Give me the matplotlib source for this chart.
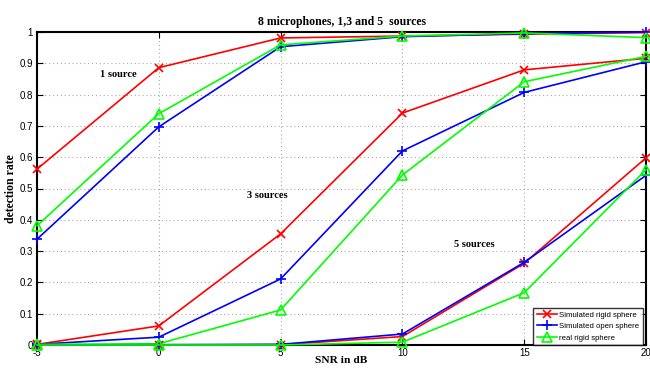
import matplotlib
matplotlib.use("Agg")
import matplotlib.pyplot as plt

snr = [-5, 0, 5, 10, 15, 20]

# 1 source
rigid_1 = [0.562, 0.886, 0.981, 0.987, 0.993, 0.998]
open_1 = [0.338, 0.697, 0.953, 0.985, 0.995, 1.0]
real_1 = [0.381, 0.739, 0.959, 0.987, 0.997, 0.982]

# 3 sources
rigid_3 = [0.002, 0.061, 0.355, 0.741, 0.879, 0.916]
open_3 = [0.002, 0.025, 0.211, 0.62, 0.807, 0.905]
real_3 = [0.002, 0.004, 0.112, 0.543, 0.841, 0.922]

# 5 sources
rigid_5 = [0.0, 0.0, 0.001, 0.027, 0.261, 0.598]
open_5 = [0.0, 0.001, 0.002, 0.035, 0.264, 0.542]
real_5 = [0.0, 0.0, 0.0, 0.009, 0.167, 0.56]

legend_labels = ["Simulated rigid sphere", "Simulated open sphere", "real rigid sphere"]
xticks = [-5, 0, 5, 10, 15, 20]
yticks = [0, 0.1, 0.2, 0.3, 0.4, 0.5, 0.6, 0.7, 0.8, 0.9, 1.0]
ytick_labels = ["0", "0.1", "0.2", "0.3", "0.4", "0.5", "0.6", "0.7", "0.8", "0.9", "1"]

W, H = 650, 368
fig = plt.figure(figsize=(W / 100, H / 100), dpi=100)
ax = fig.add_axes([37 / W, 1 - 345 / H, (646 - 37) / W, (345 - 32) / H])

serif = ["Liberation Serif", "DejaVu Serif"]
sans = ["Liberation Sans", "DejaVu Sans"]

red_kw = dict(color=(1, 0, 0), marker="x", markersize=5.5, linewidth=1.2, markeredgewidth=1.2)
blue_kw = dict(color=(0, 0, 1), marker="+", markersize=7, linewidth=1.2, markeredgewidth=1.2)
green_kw = dict(color=(0, 1, 0), marker="^", markersize=6.5, linewidth=1.2, markeredgewidth=1.2,
                markerfacecolor="none")

for r, b, g in [(rigid_1, open_1, real_1), (rigid_3, open_3, real_3), (rigid_5, open_5, real_5)]:
    lr, = ax.plot(snr, r, **red_kw, clip_on=False, zorder=3)
    lb, = ax.plot(snr, b, **blue_kw, clip_on=False, zorder=3)
    lg, = ax.plot(snr, g, **green_kw, clip_on=False, zorder=3)

handles = [lr, lb, lg]

ax.set_xlim(-5, 20)
ax.set_ylim(0, 1)
ax.set_xticks(xticks)
ax.set_xticklabels([str(t) for t in xticks], fontfamily=sans, fontsize=7)
ax.set_yticks(yticks)
ax.set_yticklabels(ytick_labels, fontfamily=sans, fontsize=7)
ax.tick_params(direction="in", top=True, right=True, length=4, width=0.8)
ax.tick_params(axis="x", pad=2)
ax.tick_params(axis="y", pad=3)
ax.grid(True, linestyle=(0, (1, 2.5)), color="#aaaaaa", linewidth=0.8)
for s in ax.spines.values():
    s.set_linewidth(1.5)

ax.set_title("8 microphones, 1,3 and 5  sources", fontfamily=serif, fontweight="bold",
             fontsize=8.5, pad=5)
ax.set_xlabel("SNR in dB", fontfamily=serif, fontweight="bold", fontsize=8.2, labelpad=-1)
ax.set_ylabel("detection rate", fontfamily=serif, fontweight="bold", fontsize=8.5, labelpad=2)

ax.text(-1.68, 0.863, "1 source", fontfamily=serif, fontweight="bold", fontsize=7.5,
        ha="center", va="center")
ax.text(4.45, 0.479, "3 sources", fontfamily=serif, fontweight="bold", fontsize=7.5,
        ha="center", va="center")
ax.text(12.95, 0.322, "5 sources", fontfamily=serif, fontweight="bold", fontsize=7.5,
        ha="center", va="center")

leg = ax.legend(handles, legend_labels, loc="lower right", bbox_to_anchor=(0.995, 0.0),
                prop={"family": sans, "size": 5.6}, frameon=True, fancybox=False,
                borderpad=0.45, labelspacing=0.5, handlelength=2.6, handletextpad=0.3,
                borderaxespad=0.0)
leg.get_frame().set_edgecolor("black")
leg.get_frame().set_linewidth(1.0)

fig.savefig("out.png", dpi=100)
